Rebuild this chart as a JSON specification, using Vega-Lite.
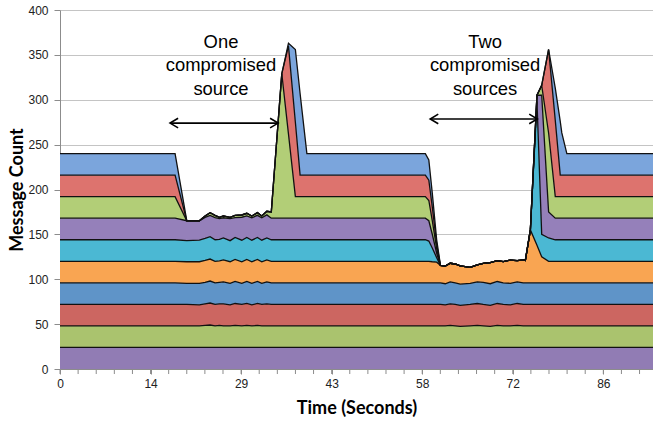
{
  "$schema": "https://vega.github.io/schema/vega-lite/v6.json",
  "autosize": "none",
  "width": 593,
  "height": 359,
  "padding": {"left": 60, "top": 10, "right": 0, "bottom": 55},
  "background": "white",
  "config": {"view": {"stroke": null}},
  "datasets": {
    "series": [
      {"t": 0, "s01": 24, "s02": 24, "s03": 24, "s04": 24, "s05": 24, "s06": 24, "s07": 24, "s08": 24, "s09": 24, "s10": 24},
      {"t": 18.3, "s01": 24, "s02": 24, "s03": 24, "s04": 24, "s05": 24, "s06": 24, "s07": 24, "s08": 24, "s09": 24, "s10": 24},
      {"t": 20.16, "s01": 24, "s02": 24, "s03": 24, "s04": 23.5, "s05": 24, "s06": 23.5, "s07": 22.2, "s08": 0, "s09": 0, "s10": 0},
      {"t": 22.16, "s01": 24, "s02": 24, "s03": 23.5, "s04": 24, "s05": 24, "s06": 24, "s07": 21.7, "s08": 0, "s09": 0, "s10": 0},
      {"t": 23.07, "s01": 24, "s02": 24.5, "s03": 24, "s04": 24, "s05": 24.5, "s06": 24.5, "s07": 23.5, "s08": 1.5, "s09": 0, "s10": 0},
      {"t": 23.87, "s01": 24, "s02": 25, "s03": 24.5, "s04": 24.5, "s05": 24.5, "s06": 25, "s07": 23.7, "s08": 3, "s09": 0, "s10": 0},
      {"t": 24.66, "s01": 24, "s02": 24, "s03": 24, "s04": 24, "s05": 24, "s06": 24, "s07": 24.7, "s08": 2.5, "s09": 0, "s10": 0},
      {"t": 25.35, "s01": 24, "s02": 24.5, "s03": 24, "s04": 24, "s05": 24, "s06": 24, "s07": 23, "s08": 1.5, "s09": 0, "s10": 0},
      {"t": 25.98, "s01": 24, "s02": 24, "s03": 24.5, "s04": 24.5, "s05": 24.5, "s06": 24.5, "s07": 22.5, "s08": 2, "s09": 0, "s10": 0},
      {"t": 27.05, "s01": 24, "s02": 24, "s03": 23.5, "s04": 24, "s05": 24, "s06": 23.5, "s07": 24.5, "s08": 1.5, "s09": 0, "s10": 0},
      {"t": 27.84, "s01": 24, "s02": 24.5, "s03": 24.5, "s04": 24.5, "s05": 24.5, "s06": 24.5, "s07": 22.1, "s08": 2.5, "s09": 0, "s10": 0},
      {"t": 28.91, "s01": 24, "s02": 24, "s03": 24, "s04": 23.5, "s05": 24, "s06": 24, "s07": 25.6, "s08": 2.5, "s09": 0, "s10": 0},
      {"t": 29.71, "s01": 24, "s02": 24.5, "s03": 24.5, "s04": 24.5, "s05": 24.5, "s06": 24.5, "s07": 24, "s08": 3, "s09": 0, "s10": 0},
      {"t": 30.5, "s01": 24, "s02": 24, "s03": 23.5, "s04": 24, "s05": 24, "s06": 24, "s07": 25, "s08": 2, "s09": 0, "s10": 0},
      {"t": 31.39, "s01": 24, "s02": 24.5, "s03": 24.5, "s04": 24.5, "s05": 24.5, "s06": 24.5, "s07": 24.7, "s08": 3, "s09": 0, "s10": 0},
      {"t": 32.09, "s01": 24, "s02": 24, "s03": 24, "s04": 23.5, "s05": 24, "s06": 24, "s07": 25, "s08": 2, "s09": 0, "s10": 0},
      {"t": 32.89, "s01": 24, "s02": 24, "s03": 24.5, "s04": 24.5, "s05": 24.5, "s06": 24.5, "s07": 25.7, "s08": 4, "s09": 0, "s10": 0},
      {"t": 33.6, "s01": 24, "s02": 24, "s03": 24, "s04": 24, "s05": 24, "s06": 24, "s07": 24, "s08": 7, "s09": 0, "s10": 0},
      {"t": 35.27, "s01": 24, "s02": 24, "s03": 24, "s04": 24, "s05": 24, "s06": 24, "s07": 24, "s08": 161, "s09": 0, "s10": 0},
      {"t": 36.33, "s01": 24, "s02": 24, "s03": 24, "s04": 24, "s05": 24, "s06": 24, "s07": 24, "s08": 94, "s09": 98, "s10": 3},
      {"t": 37.43, "s01": 24, "s02": 24, "s03": 24, "s04": 24, "s05": 24, "s06": 24, "s07": 24, "s08": 24, "s09": 83, "s10": 81},
      {"t": 38.18, "s01": 24, "s02": 24, "s03": 24, "s04": 24, "s05": 24, "s06": 24, "s07": 24, "s08": 24, "s09": 24, "s10": 91},
      {"t": 39.26, "s01": 24, "s02": 24, "s03": 24, "s04": 24, "s05": 24, "s06": 24, "s07": 24, "s08": 24, "s09": 24, "s10": 24},
      {"t": 58.1, "s01": 24, "s02": 24, "s03": 24, "s04": 24, "s05": 24, "s06": 24, "s07": 24, "s08": 24, "s09": 24, "s10": 24},
      {"t": 58.65, "s01": 24, "s02": 24, "s03": 24, "s04": 24, "s05": 24, "s06": 22.6, "s07": 22.6, "s08": 22.6, "s09": 22.6, "s10": 22.6},
      {"t": 59.2, "s01": 24, "s02": 24, "s03": 24, "s04": 24, "s05": 23.5, "s06": 15.3, "s07": 15.3, "s08": 15.3, "s09": 15.3, "s10": 15.3},
      {"t": 59.9, "s01": 24, "s02": 24, "s03": 24, "s04": 24, "s05": 23, "s06": 5, "s07": 5, "s08": 5, "s09": 5, "s10": 5},
      {"t": 60.5, "s01": 24, "s02": 24, "s03": 24, "s04": 24, "s05": 19.5, "s06": 0, "s07": 0, "s08": 0, "s09": 0, "s10": 0},
      {"t": 61.26, "s01": 24, "s02": 24, "s03": 23.5, "s04": 23.5, "s05": 19.8, "s06": 0, "s07": 0, "s08": 0, "s09": 0, "s10": 0},
      {"t": 62.05, "s01": 24, "s02": 24.5, "s03": 24, "s04": 24.5, "s05": 20.8, "s06": 0, "s07": 0, "s08": 0, "s09": 0, "s10": 0},
      {"t": 62.85, "s01": 24, "s02": 24, "s03": 24, "s04": 24, "s05": 21, "s06": 0, "s07": 0, "s08": 0, "s09": 0, "s10": 0},
      {"t": 63.64, "s01": 24, "s02": 23.5, "s03": 23.5, "s04": 23.5, "s05": 20.3, "s06": 0, "s07": 0, "s08": 0, "s09": 0, "s10": 0},
      {"t": 65.23, "s01": 24, "s02": 24, "s03": 24, "s04": 23.5, "s05": 17.8, "s06": 0, "s07": 0, "s08": 0, "s09": 0, "s10": 0},
      {"t": 66.35, "s01": 24, "s02": 24.5, "s03": 24.5, "s04": 24, "s05": 18.9, "s06": 0, "s07": 0, "s08": 0, "s09": 0, "s10": 0},
      {"t": 67.3, "s01": 24, "s02": 24, "s03": 24, "s04": 24.5, "s05": 21.3, "s06": 0, "s07": 0, "s08": 0, "s09": 0, "s10": 0},
      {"t": 68.42, "s01": 24, "s02": 23.5, "s03": 23.5, "s04": 24, "s05": 23.5, "s06": 0, "s07": 0, "s08": 0, "s09": 0, "s10": 0},
      {"t": 69.53, "s01": 24, "s02": 24.5, "s03": 24.5, "s04": 24.5, "s05": 23.2, "s06": 0, "s07": 0, "s08": 0, "s09": 0, "s10": 0},
      {"t": 70.49, "s01": 24, "s02": 24, "s03": 24, "s04": 24, "s05": 23.6, "s06": 0, "s07": 0, "s08": 0, "s09": 0, "s10": 0},
      {"t": 71.6, "s01": 24, "s02": 24, "s03": 23.5, "s04": 24, "s05": 25.9, "s06": 0, "s07": 0, "s08": 0, "s09": 0, "s10": 0},
      {"t": 72.7, "s01": 24, "s02": 24.5, "s03": 24.5, "s04": 24, "s05": 23.7, "s06": 0, "s07": 0, "s08": 0, "s09": 0, "s10": 0},
      {"t": 73.67, "s01": 24, "s02": 24, "s03": 24, "s04": 24, "s05": 25.5, "s06": 0, "s07": 0, "s08": 0, "s09": 0, "s10": 0},
      {"t": 74.0, "s01": 24, "s02": 24, "s03": 24, "s04": 24, "s05": 25, "s06": 0, "s07": 0, "s08": 0, "s09": 0, "s10": 0},
      {"t": 74.8, "s01": 24, "s02": 24, "s03": 24, "s04": 24, "s05": 59, "s06": 0, "s07": 0, "s08": 0, "s09": 0, "s10": 0},
      {"t": 75.85, "s01": 24, "s02": 24, "s03": 24, "s04": 24, "s05": 42, "s06": 160, "s07": 7, "s08": 0, "s09": 0, "s10": 0},
      {"t": 76.6, "s01": 24, "s02": 24, "s03": 24, "s04": 24, "s05": 29, "s06": 25, "s07": 155, "s08": 11, "s09": 0, "s10": 0},
      {"t": 77.7, "s01": 24, "s02": 24, "s03": 24, "s04": 24, "s05": 24, "s06": 26, "s07": 29, "s08": 88, "s09": 93, "s10": 0},
      {"t": 78.76, "s01": 24, "s02": 24, "s03": 24, "s04": 24, "s05": 24, "s06": 24, "s07": 24, "s08": 24, "s09": 85, "s10": 36},
      {"t": 79.55, "s01": 24, "s02": 24, "s03": 24, "s04": 24, "s05": 24, "s06": 24, "s07": 24, "s08": 24, "s09": 24, "s10": 60},
      {"t": 79.8, "s01": 24, "s02": 24, "s03": 24, "s04": 24, "s05": 24, "s06": 24, "s07": 24, "s08": 24, "s09": 24, "s10": 47},
      {"t": 80.6, "s01": 24, "s02": 24, "s03": 24, "s04": 24, "s05": 24, "s06": 24, "s07": 24, "s08": 24, "s09": 24, "s10": 24},
      {"t": 94.3, "s01": 24, "s02": 24, "s03": 24, "s04": 24, "s05": 24, "s06": 24, "s07": 24, "s08": 24, "s09": 24, "s10": 24}
    ],
    "xticks": [
      {"t": 0}, {"t": 2.88}, {"t": 5.76}, {"t": 8.64}, {"t": 11.52}, {"t": 14.4}, {"t": 17.28}, {"t": 20.16}, {"t": 23.04}, {"t": 25.92}, {"t": 28.8},
      {"t": 31.68}, {"t": 34.56}, {"t": 37.44}, {"t": 40.32}, {"t": 43.2}, {"t": 46.08}, {"t": 48.96}, {"t": 51.84}, {"t": 54.72}, {"t": 57.6},
      {"t": 60.48}, {"t": 63.36}, {"t": 66.24}, {"t": 69.12}, {"t": 72}, {"t": 74.88}, {"t": 77.76}, {"t": 80.64}, {"t": 83.52}, {"t": 86.4},
      {"t": 89.28}, {"t": 92.16}
    ],
    "labels": [
      {"x": 25.6, "y": 364.9, "text": "One"},
      {"x": 25.6, "y": 338.7, "text": "compromised"},
      {"x": 25.6, "y": 312.5, "text": "source"},
      {"x": 67.6, "y": 364.9, "text": "Two"},
      {"x": 67.6, "y": 338.7, "text": "compromised"},
      {"x": 67.6, "y": 312.5, "text": "sources"}
    ],
    "arrows": [
      {"x1": 17.5, "x2": 34.69, "y": 274},
      {"x1": 58.87, "x2": 75.9, "y": 278.6}
    ],
    "heads": [
      {"x": 17.5, "y": 274, "dir": "left"},
      {"x": 34.69, "y": 274, "dir": "right"},
      {"x": 58.87, "y": 278.6, "dir": "left"},
      {"x": 75.9, "y": 278.6, "dir": "right"}
    ]
  },
  "layer": [
    {
      "data": {"name": "series"},
      "transform": [
        {"fold": ["s01", "s02", "s03", "s04", "s05", "s06", "s07", "s08", "s09", "s10"], "as": ["series", "value"]},
        {"stack": "value", "groupby": ["t"], "sort": [{"field": "series", "order": "ascending"}], "as": ["y0", "y1"]}
      ],
      "mark": {"type": "area", "interpolate": "linear", "opacity": 1, "fillOpacity": 1},
      "encoding": {
        "x": {
          "field": "t", "type": "quantitative",
          "scale": {"domain": [0, 94.3], "nice": false, "zero": false},
          "axis": {
            "values": [0, 14.4, 28.8, 43.2, 57.6, 72, 86.4],
            "format": ".0f",
            "grid": false,
            "labelFlush": false,
            "labelOverlap": false,
            "domainColor": "#8c8c8c",
            "tickColor": "#8c8c8c",
            "tickSize": 5,
            "labelFont": "Liberation Sans",
            "labelFontSize": 12,
            "labelColor": "#222222",
            "labelPadding": 4,
            "title": "Time (Seconds)",
            "titleFont": "Lato",
            "titleFontSize": 18,
            "titleFontWeight": "bold",
            "titleColor": "#000000",
            "titlePadding": 10
          }
        },
        "y": {
          "field": "y1", "type": "quantitative",
          "scale": {"domain": [0, 400], "nice": false},
          "axis": {
            "values": [0, 50, 100, 150, 200, 250, 300, 350, 400],
            "grid": true,
            "gridColor": "#c4c4c4",
            "domainColor": "#8c8c8c",
            "tickColor": "#8c8c8c",
            "tickSize": 6,
            "labelFont": "Liberation Sans",
            "labelFontSize": 12,
            "labelColor": "#222222",
            "labelPadding": 6,
            "title": "Message Count",
            "titleFont": "Lato",
            "titleFontSize": 18,
            "titleFontWeight": "bold",
            "titleColor": "#000000",
            "titlePadding": 1
          }
        },
        "y2": {"field": "y0"},
        "color": {
          "field": "series", "type": "nominal",
          "scale": {
            "domain": ["s01", "s02", "s03", "s04", "s05", "s06", "s07", "s08", "s09", "s10"],
            "range": ["#917cb4", "#aac36e", "#cc6661", "#5f94c8", "#f9a552", "#4bb8d3", "#9580ba", "#b2ce77", "#dd736e", "#7ba5dc"]
          },
          "legend": null
        }
      }
    },
    {
      "data": {"name": "series"},
      "transform": [
        {"fold": ["s01", "s02", "s03", "s04", "s05", "s06", "s07", "s08", "s09", "s10"], "as": ["series", "value"]},
        {"stack": "value", "groupby": ["t"], "sort": [{"field": "series", "order": "ascending"}], "as": ["y0", "y1"]}
      ],
      "mark": {"type": "line", "interpolate": "linear", "color": "#111111", "strokeWidth": 1.3, "strokeJoin": "miter"},
      "encoding": {
        "x": {"field": "t", "type": "quantitative"},
        "y": {"field": "y1", "type": "quantitative"},
        "detail": {"field": "series", "type": "nominal"}
      }
    },
    {
      "data": {"name": "xticks"},
      "mark": {"type": "rule", "color": "#8c8c8c", "strokeWidth": 1},
      "encoding": {
        "x": {"field": "t", "type": "quantitative"},
        "y": {"datum": 0},
        "y2": {"datum": -5.6}
      }
    },
    {
      "data": {"name": "arrows"},
      "mark": {"type": "rule", "color": "#000000", "strokeWidth": 1.6},
      "encoding": {
        "x": {"field": "x1", "type": "quantitative"},
        "x2": {"field": "x2"},
        "y": {"field": "y", "type": "quantitative"}
      }
    },
    {
      "data": {"name": "heads"},
      "mark": {"type": "point", "filled": false, "stroke": "#000000", "strokeWidth": 1.6, "size": 260, "opacity": 1},
      "encoding": {
        "x": {"field": "x", "type": "quantitative"},
        "y": {"field": "y", "type": "quantitative"},
        "shape": {
          "field": "dir", "type": "nominal",
          "scale": {"domain": ["left", "right"], "range": ["M 1 -0.6 L 0 0 L 1 0.6", "M -1 -0.6 L 0 0 L -1 0.6"]},
          "legend": null
        }
      }
    },
    {
      "data": {"name": "labels"},
      "mark": {"type": "text", "font": "Liberation Sans", "fontSize": 18.4, "color": "#000000", "align": "center", "baseline": "middle"},
      "encoding": {
        "x": {"field": "x", "type": "quantitative"},
        "y": {"field": "y", "type": "quantitative"},
        "text": {"field": "text"}
      }
    }
  ]
}
